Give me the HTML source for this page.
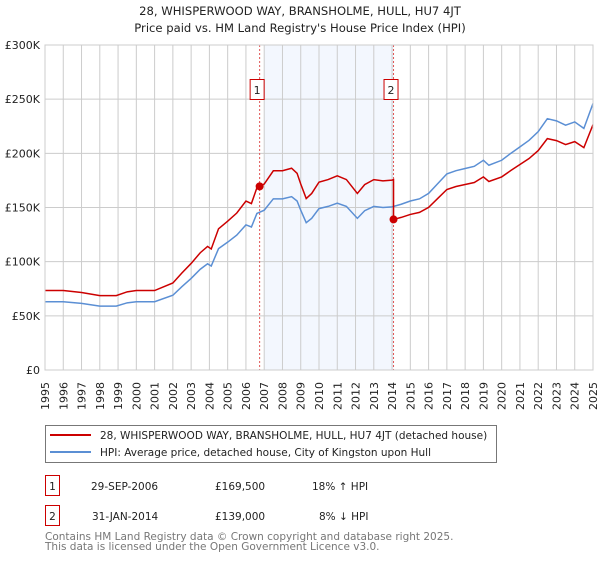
<!DOCTYPE html>
<html><head><meta charset="utf-8"><style>
body{margin:0;background:#fff;width:600px;height:560px;overflow:hidden;font-family:"DejaVu Sans","Liberation Sans",sans-serif}
svg text{font-family:"DejaVu Sans","Liberation Sans",sans-serif}
</style></head><body>
<svg id="chart" width="600" height="560" xmlns="http://www.w3.org/2000/svg">
<text x="300" y="15" text-anchor="middle" font-size="11.6" fill="#222">28, WHISPERWOOD WAY, BRANSHOLME, HULL, HU7 4JT</text>
<text x="300" y="32" text-anchor="middle" font-size="11.6" fill="#222">Price paid vs. HM Land Registry's House Price Index (HPI)</text>
<g id="plot"></g>
<rect x="45.5" y="425.5" width="451" height="37" fill="#fff" stroke="#777"/>
<line x1="50" y1="435" x2="91" y2="435" stroke="#cc0000" stroke-width="2"/>
<text x="100" y="439" font-size="10.5" fill="#222">28, WHISPERWOOD WAY, BRANSHOLME, HULL, HU7 4JT (detached house)</text>
<line x1="50" y1="452" x2="91" y2="452" stroke="#5b8fd4" stroke-width="2"/>
<text x="100" y="456" font-size="10.5" fill="#222">HPI: Average price, detached house, City of Kingston upon Hull</text>
<g font-size="10.5" fill="#222">
<rect x="45.5" y="475.5" width="14" height="20" fill="none" stroke="#cc0000"/>
<text x="52.5" y="490" text-anchor="middle">1</text>
<text x="91" y="490">29-SEP-2006</text>
<text x="215" y="490">£169,500</text>
<text x="312" y="490">18% ↑ HPI</text>
</g>
<g font-size="10.5" fill="#222">
<rect x="45.5" y="505.5" width="14" height="20" fill="none" stroke="#cc0000"/>
<text x="52.5" y="520" text-anchor="middle">2</text>
<text x="92" y="520">31-JAN-2014</text>
<text x="215" y="520">£139,000</text>
<text x="319" y="520">8% ↓ HPI</text>
</g>
<text x="45" y="540" font-size="10.5" fill="#777">Contains HM Land Registry data © Crown copyright and database right 2025.</text>
<text x="45" y="550" font-size="10.5" fill="#777">This data is licensed under the Open Government Licence v3.0.</text>
</svg>
<script>
const hpiYears=[1995,1996,1997,1998,1998.9,1999.5,2000,2001,2002,2002.5,2003,2003.5,2003.9,2004.1,2004.5,2005,2005.5,2006,2006.3,2006.6,2007,2007.5,2008,2008.5,2008.8,2009.0,2009.3,2009.6,2010,2010.5,2011,2011.5,2012.1,2012.5,2013,2013.5,2014,2014.5,2015,2015.5,2016,2016.5,2017,2017.5,2018,2018.5,2019,2019.3,2020,2020.5,2021,2021.5,2022,2022.5,2023,2023.5,2024,2024.5,2025];
const hpiValues=[63,63,61.5,59,59,62,63,63,69,77,84.5,93,98,96,112,118,124.5,134,132,144.5,147.5,158,158,160,156,147.5,136,140,149,151,154,151,140,147,151,150,150.6,153,156,158,163,172,181,184,186,188,193.6,189,193.6,200,206,212,220,232,230,226,229,223,246];
const yTicks=[0,50,100,150,200,250,300];
const yTickLabels=["£0","£50K","£100K","£150K","£200K","£250K","£300K"];
const xTicks=[1995,1996,1997,1998,1999,2000,2001,2002,2003,2004,2005,2006,2007,2008,2009,2010,2011,2012,2013,2014,2015,2016,2017,2018,2019,2020,2021,2022,2023,2024,2025];
const saleDates=[2006.75,2014.08];
const salePrices=[169.5,139];
const saleLabels=["1","2"];
const shadeRange=[2007.0,2014.08];

const NS="http://www.w3.org/2000/svg";
const X0=45,X1=593,Y0=370,Y1=45;
const xs=t=>X0+(t-1995)/30*(X1-X0);
const ys=v=>Y0-v/300*(Y0-Y1);
const g=document.getElementById('plot');
function mk(tag,attrs){const e=document.createElementNS(NS,tag);for(const k in attrs)e.setAttribute(k,attrs[k]);g.appendChild(e);return e;}
function hpiAt(t){for(let i=0;i<hpiYears.length-1;i++){if(t>=hpiYears[i]&&t<=hpiYears[i+1]){const f=(t-hpiYears[i])/(hpiYears[i+1]-hpiYears[i]);return hpiValues[i]+f*(hpiValues[i+1]-hpiValues[i]);}}return hpiValues[hpiValues.length-1];}

const sh=mk('rect',{x:xs(shadeRange[0]),y:Y1,width:xs(shadeRange[1])-xs(shadeRange[0]),height:Y0-Y1,fill:'#eef3fd',opacity:0.7});


xTicks.forEach(t=>{
  const l=mk('line',{x1:xs(t),x2:xs(t),y1:Y1,y2:Y0,stroke:'#ccc','stroke-width':1});
  
  
  const tx=mk('text',{x:0,y:0,'font-size':11,fill:'#222','text-anchor':'end',transform:`translate(${xs(t)+4},${Y0+12}) rotate(-90)`});
  tx.textContent=t;
  
  
});
yTicks.forEach((v,i)=>{
  const l=mk('line',{x1:X0,x2:X1,y1:ys(v),y2:ys(v),stroke:'#ccc','stroke-width':1});
  
  
  const tx=mk('text',{x:40,y:ys(v)+4,'font-size':11,fill:'#222','text-anchor':'end'});
  tx.textContent=yTickLabels[i];
  
  
});
saleDates.forEach((d,i)=>{
  const l=mk('line',{x1:xs(d),x2:xs(d),y1:Y1,y2:Y0,stroke:'#e05555','stroke-width':1,'stroke-dasharray':'2,2'});
  
  
  const b=mk('rect',{x:xs(d)-9.5,y:79.5,width:14,height:20,fill:'#fff',stroke:'#cc0000'});
  
  
  const tx=mk('text',{x:xs(d)-2.5,y:94,'font-size':11,fill:'#222','text-anchor':'middle'});
  tx.textContent=saleLabels[i];
  
  
});
const hp=mk('polyline',{points:hpiYears.map((t,i)=>xs(t)+','+ys(hpiValues[i])).join(' '),fill:'none',stroke:'#5b8fd4','stroke-width':1.5});


const pts=[];
const r1=salePrices[0]/hpiAt(saleDates[0]), r2=salePrices[1]/hpiAt(saleDates[1]);
hpiYears.forEach((t,i)=>{ if(t<saleDates[1]) pts.push(xs(t)+','+ys(hpiValues[i]*r1)); });
pts.push(xs(saleDates[1])+','+ys(hpiAt(saleDates[1])*r1));
pts.push(xs(saleDates[1])+','+ys(salePrices[1]));
hpiYears.forEach((t,i)=>{ if(t>saleDates[1]) pts.push(xs(t)+','+ys(hpiValues[i]*r2)); });
const pl=mk('polyline',{points:pts.join(' '),fill:'none',stroke:'#cc0000','stroke-width':1.5});


saleDates.forEach((d,i)=>{
  const c=mk('circle',{cx:xs(d),cy:ys(salePrices[i]),r:4,fill:'#cc0000'});
  
  
});
const ax=mk('rect',{x:X0,y:Y1,width:X1-X0,height:Y0-Y1,fill:'none',stroke:'#ccc'});


</script>
</body></html>
